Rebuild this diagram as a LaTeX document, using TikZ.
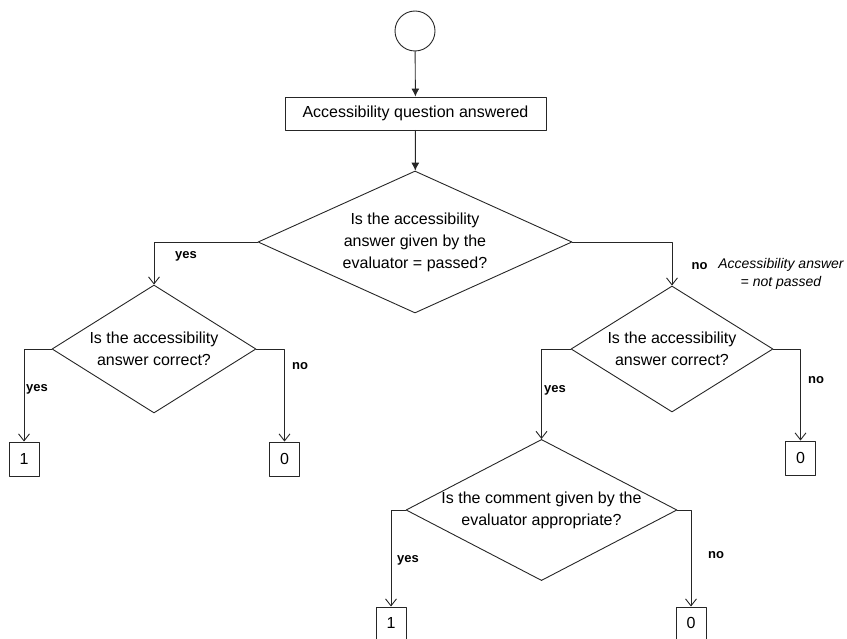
\documentclass[tikz,border=0pt]{standalone}
\usepackage{fontspec}
\setmainfont{Liberation Sans}
\usepackage{tikz}
\usetikzlibrary{shapes.geometric,arrows.meta}
\tikzset{>=latex}
\usepackage{xcolor}
\colorlet{myline}{black!85}

\begin{document}
\begin{tikzpicture}[x=1pt, y=-1pt, % pixel-like units, y grows downwards
                    line cap=round, line join=round,
                    every node/.style={font=\fontsize{16}{22}\selectfont},
                    startnode/.style={circle, draw=myline, line width=0.9pt, minimum size=40pt, inner sep=0pt},
                    actionbox/.style={rectangle, draw=myline, line width=0.9pt, minimum height=33pt, inner sep=4pt},
                    valuebox/.style={rectangle, draw=myline, line width=0.9pt, minimum width=30pt, minimum height=34pt, inner sep=0pt},
                    decision/.style={diamond, draw=myline, line width=0.9pt, inner sep=0pt, align=center},
                    flow/.style={myline, line width=0.9pt, ->, >={Latex[length=8pt,width=8pt]}},
                    branch/.style={myline, line width=0.9pt, ->, >={Straight Barb[length=7pt,width=11pt]}},
                    answer/.style={font=\fontsize{13}{15}\selectfont\bfseries},
                    remark/.style={font=\fontsize{14}{18}\selectfont\itshape, align=center}]
  \useasboundingbox (0,0) rectangle (847,639);

% Start and first step
  \node[startnode] (start) at (415,31) {};
  \node[actionbox, minimum width=261pt] (answered) at (415.5,113.5) {Accessibility question answered};

% Decisions
  \node[decision, minimum width=314pt, minimum height=142pt, aspect=2.21] (passed) at (415,242)
    {Is the accessibility\\answer given by the\\evaluator = passed?};
  \node[decision, minimum width=204pt, minimum height=128pt, aspect=1.6] (correctL) at (154,349)
    {Is the accessibility\\answer correct?};
  \node[decision, minimum width=202pt, minimum height=126pt, aspect=1.6] (correctR) at (672,349)
    {Is the accessibility\\answer correct?};
  \node[decision, minimum width=263pt, minimum height=137pt, aspect=1.92] (comment) at (541.5,510)
    {Is the comment given by the\\evaluator appropriate?};

% Scores
  \node[valuebox] (oneL)  at (24,459)    {1};
  \node[valuebox] (zeroL) at (284.5,459) {0};
  \node[valuebox] (zeroR) at (800.5,458) {0};
  \node[valuebox, minimum height=32pt] (oneC)  at (391,623) {1};
  \node[valuebox, minimum height=32pt] (zeroC) at (691,623) {0};

% Connectors
  \draw[flow] (start) -- (answered);
  \draw[flow] (answered) -- (passed);
  \draw[branch] (passed.west) -| (correctL.north);
  \draw[branch] (passed.east) -| (correctR.north);
  \draw[branch] (correctL.west) -| (oneL.north);
  \draw[branch] (correctL.east) -| (zeroL.north);
  \draw[branch] (correctR.west) -| (comment.north);
  \draw[branch] (correctR.east) -| (zeroR.north);
  \draw[branch] (comment.west) -| (oneC.north);
  \draw[branch] (comment.east) -| (zeroC.north);

% Branch labels
  \node[answer] (yesP) at (186,256) {yes};
  \node[answer] (noP)  at (699.5,266) {no};
  \node[remark] (notpassed) at (781,274) {Accessibility answer\\= not passed};
  \node[answer] (yesL) at (37,389)  {yes};
  \node[answer] (noL)  at (300,366) {no};
  \node[answer] (yesR) at (555,390) {yes};
  \node[answer] (noR)  at (816,380) {no};
  \node[answer] (yesC) at (408,560) {yes};
  \node[answer] (noC)  at (716,555) {no};
\end{tikzpicture}
\end{document}
